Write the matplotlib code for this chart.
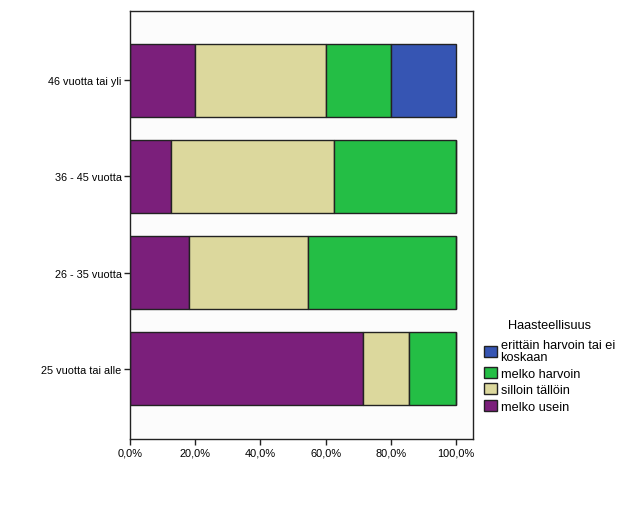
import matplotlib
matplotlib.use("Agg")
import matplotlib.pyplot as plt
from matplotlib.patches import Patch
import numpy as np

categories = ["25 vuotta tai alle", "26 - 35 vuotta", "36 - 45 vuotta", "46 vuotta tai yli"]
series_names = ["melko usein", "silloin tällöin", "melko harvoin", "erittäin harvoin tai ei\nkoskaan"]
melko_usein = [71.4, 18.2, 12.5, 20.0]
silloin_tallloin = [14.3, 36.4, 50.0, 40.0]
melko_harvoin = [14.3, 45.4, 37.5, 20.0]
erittain_harvoin = [0.0, 0.0, 0.0, 20.0]
colors = ["#7B1F7B", "#DCD89D", "#24BE45", "#3655B3"]
xticks = [0, 20, 40, 60, 80, 100]
xticklabels = ["0,0%", "20,0%", "40,0%", "60,0%", "80,0%", "100,0%"]

plt.rcParams['font.family'] = ['Liberation Sans', 'DejaVu Sans']
fig = plt.figure(figsize=(6.31, 5.06), dpi=100)
ax = fig.add_axes([130/631, 1-440/506, (473-130)/631, (440-12)/506])
ax.set_facecolor("#FCFCFC")

ypos = np.arange(len(categories))
left = np.zeros(len(categories))
for vals, c in zip([melko_usein, silloin_tallloin, melko_harvoin, erittain_harvoin], colors):
    vals = np.array(vals)
    ax.barh(ypos, vals, left=left, height=0.76, color=c, edgecolor="#222222", linewidth=1.0)
    left += vals

ax.set_xlim(0, 105.2)
ax.set_ylim(-0.73, 3.72)
ax.set_yticks(ypos)
ax.set_yticklabels(categories, fontsize=7.8)
ax.set_xticks(xticks)
ax.set_xticklabels(xticklabels, fontsize=7.9)
ax.tick_params(axis='both', length=4, width=1, color="#222222", pad=2)
for s in ax.spines.values():
    s.set_color("#222222")
    s.set_linewidth(1.0)

handles = [Patch(facecolor=colors[i], edgecolor="#222222", label=series_names[i]) for i in [3, 2, 1, 0]]
leg = fig.legend(handles=handles, title="Haasteellisuus", loc="upper left",
                 bbox_to_anchor=(484/631, 1-320/506), frameon=False, fontsize=9.2,
                 title_fontsize=9.2, handlelength=1.0, handleheight=0.95,
                 handletextpad=0.3, labelspacing=0.3, borderaxespad=0, borderpad=0)
leg._legend_box.sep = 6
for t in leg.get_texts():
    t.set_linespacing(0.95)

fig.savefig("out.png", dpi=100)
